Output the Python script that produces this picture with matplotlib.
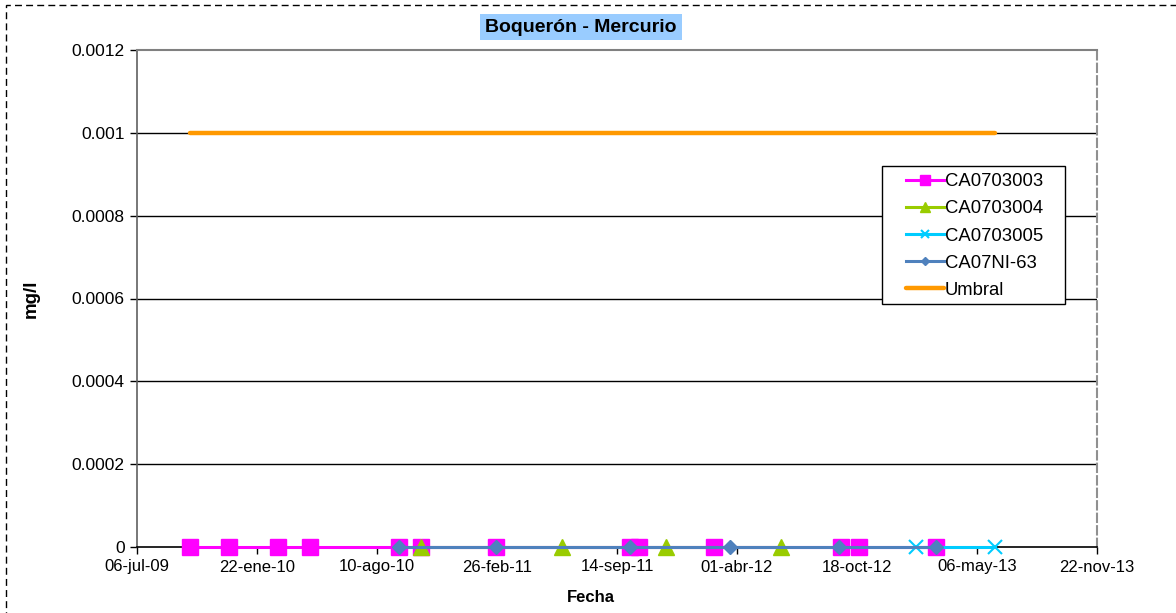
import matplotlib
matplotlib.use("Agg")
import matplotlib.pyplot as plt
import numpy as np
import pandas as pd
from matplotlib.patches import Rectangle

plt.rcParams['font.family'] = ['Liberation Sans', 'DejaVu Sans']

# data (all samples below detection -> 0)
fechas_003 = ['2009-10-02', '2009-12-06', '2010-02-26', '2010-04-20', '2010-09-15',
              '2010-10-22', '2011-02-25', '2011-10-05', '2011-10-20', '2012-02-22',
              '2012-09-22', '2012-10-22', '2013-02-27']
valores_003 = [0, 0, 0, 0, 0, 0, 0, 0, 0, 0, 0, 0, 0]

fechas_004 = ['2010-10-22', '2011-06-15', '2011-12-05', '2012-06-14']
valores_004 = [0, 0, 0, 0]

fechas_005 = ['2013-01-25', '2013-06-05']
valores_005 = [0, 0]

fechas_ni63 = ['2010-09-15', '2011-02-25', '2011-10-05', '2012-03-21', '2012-09-18', '2013-02-27']
valores_ni63 = [0, 0, 0, 0, 0, 0]

fechas_umbral = ['2009-10-02', '2013-06-05']
valores_umbral = [0.001, 0.001]

tick_inicio = '2009-07-06'
tick_labels = ['06-jul-09', '22-ene-10', '10-ago-10', '26-feb-11', '14-sep-11',
               '01-abr-12', '18-oct-12', '06-may-13', '22-nov-13']
y_ticks = [0, 0.0002, 0.0004, 0.0006, 0.0008, 0.001, 0.0012]
y_labels = ['0', '0.0002', '0.0004', '0.0006', '0.0008', '0.001', '0.0012']

W, H = 1176, 613
fig = plt.figure(figsize=(W/100, H/100), dpi=100)
ax = fig.add_axes([137/W, 1-547/H, (1097-137)/W, (547-50)/H])

# y grid lines
for y in y_ticks[1:-1]:
    ax.axhline(y, color='black', lw=1, zorder=1)

ax.plot(pd.to_datetime(fechas_003), valores_003, color='#FF00FF', lw=2.2, marker='s',
        markersize=11, label='CA0703003', zorder=3, clip_on=False)
ax.plot(pd.to_datetime(fechas_004), valores_004, color='#99CC00', lw=2.2, marker='^',
        markersize=11, label='CA0703004', zorder=4, clip_on=False)
ax.plot(pd.to_datetime(fechas_005), valores_005, color='#00CCFF', lw=2.2, marker='x',
        markersize=10, markeredgewidth=1.5, label='CA0703005', zorder=5, clip_on=False)
ax.plot(pd.to_datetime(fechas_ni63), valores_ni63, color='#4F81BD', lw=2.2, marker='D',
        markersize=7, label='CA07NI-63', zorder=6, clip_on=False)
ax.plot(pd.to_datetime(fechas_umbral), valores_umbral, color='#FF9900', lw=3.2,
        label='Umbral', zorder=7, solid_capstyle='round')

ticks = [pd.Timestamp(tick_inicio) + pd.Timedelta(days=200*i) for i in range(len(tick_labels))]
ax.set_xticks(ticks)
ax.set_xticklabels(tick_labels, fontsize=12)
ax.set_xlim(ticks[0], ticks[-1])
ax.set_ylim(0, 0.0012)
ax.set_yticks(y_ticks)
ax.set_yticklabels(y_labels, fontsize=12.5)
ax.tick_params(axis='both', direction='out', length=5, width=1, pad=4)

ax.spines['top'].set_color('#808080')
ax.spines['top'].set_linewidth(1.5)
ax.spines['left'].set_color('#606060')
ax.spines['left'].set_linewidth(1.2)
ax.spines['right'].set_color('#909090')
ax.spines['right'].set_linewidth(1.5)
ax.spines['right'].set_linestyle((0, (4, 2)))
ax.spines['bottom'].set_color('black')
ax.spines['bottom'].set_linewidth(1.2)

ax.set_xlabel('Fecha', fontsize=12, fontweight='bold', va='center')
ax.xaxis.set_label_coords((591-137)/960, -(597-547)/497)
ax.set_ylabel('mg/l', fontsize=13.5, fontweight='bold', va='center')
ax.yaxis.set_label_coords((31-137)/960, 0.5)

fig.text(581/W, 1-27/H, 'Boquerón - Mercurio', fontsize=14, fontweight='bold',
         ha='center', va='center',
         bbox=dict(boxstyle='square,pad=0.25', facecolor='#99CCFF', edgecolor='none'))

# legend: frame drawn separately so the paddings match
leg = ax.legend(loc='upper left', bbox_to_anchor=(897/W, 1-164/H),
                bbox_transform=fig.transFigure,
                fontsize=13.3, frameon=False, numpoints=1,
                handlelength=2.05, handletextpad=0.05, labelspacing=0.55,
                borderpad=0, markerscale=0.6)
leg.set_zorder(9)
ax.add_patch(Rectangle((882/W, 1-304/H), (1065-882)/W, (304-166)/H,
                       transform=fig.transFigure, facecolor='white', edgecolor='black',
                       lw=1, zorder=8, clip_on=False))

# dashed chart-area border
fig.patches.append(Rectangle((6/W, -0.05), 1.1, 1-5/H+0.05, transform=fig.transFigure,
                             fill=False, edgecolor='black', lw=1, linestyle=(0, (5, 3))))

fig.savefig('out.png', dpi=100)
